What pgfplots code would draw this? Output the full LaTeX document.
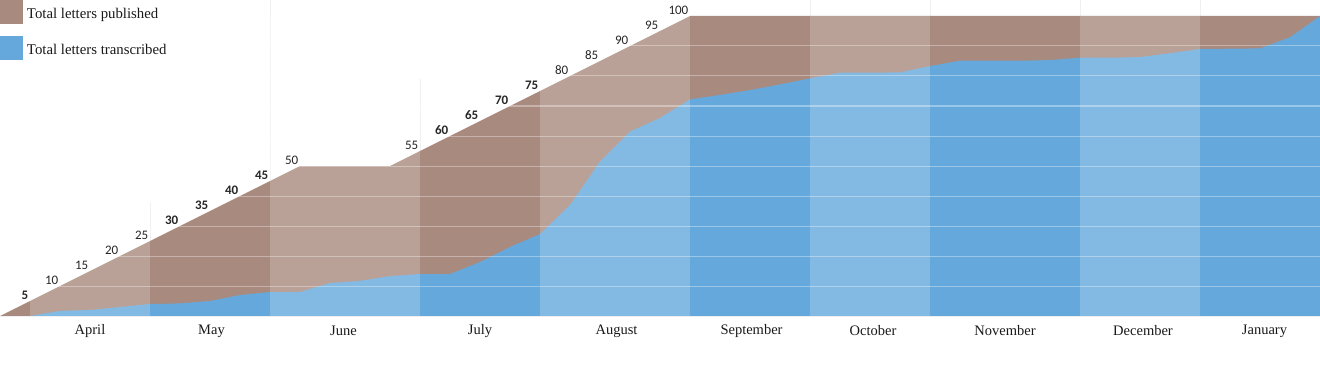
\documentclass[border=0pt]{standalone}
\usepackage{pgfplots}
\pgfplotsset{compat=1.18}
\usepackage{fontspec}
\setmainfont{Liberation Serif}
\newfontfamily\numfont{Carlito}
\definecolor{brownD}{RGB}{169,138,127}
\definecolor{blueD}{RGB}{101,169,220}
\begin{document}
\begin{tikzpicture}
\begin{axis}[
  width=1320bp, height=378bp, scale only axis,
  xmin=0, xmax=44, ymin=-20.6667, ymax=105.3333,
  axis lines=none, xtick=\empty, ytick=\empty,
  clip=false,
  legend style={at={(rel axis cs:0,1)}, anchor=north west, draw=none, fill=none,
    inner sep=0pt, outer sep=0pt, font=\fontsize{14.8bp}{16bp}\selectfont,
    row sep=12bp, text=black!90,
    /tikz/every odd column/.append style={column sep=2bp}},
  legend cell align=left,
  legend image code/.code={\fill[#1] (0bp,-10bp) rectangle (23bp,14bp);},
]
\coordinate (A) at (rel axis cs:0,0);
\coordinate (B) at (rel axis cs:1,1);
% faint vertical band edges
\draw[black!6, line width=0.6bp] (axis cs:5,0) -- (axis cs:5,38);
\draw[black!6, line width=0.6bp] (axis cs:9,0) -- (axis cs:9,105.33);
\draw[black!6, line width=0.6bp] (axis cs:14,0) -- (axis cs:14,79);
\draw[black!6, line width=0.6bp] (axis cs:27,0) -- (axis cs:27,105.33);
\draw[black!6, line width=0.6bp] (axis cs:31,0) -- (axis cs:31,105.33);
\draw[black!6, line width=0.6bp] (axis cs:36,0) -- (axis cs:36,105.33);
\draw[black!6, line width=0.6bp] (axis cs:40,0) -- (axis cs:40,105.33);

\addplot[fill=brownD, draw=none] coordinates {
 (0,0) (1,5) (2,10) (3,15) (4,20) (5,25) (6,30) (7,35) (8,40) (9,45) (10,50)
 (11,50) (12,50) (13,50) (14,55) (15,60) (16,65) (17,70) (18,75) (19,80)
 (20,85) (21,90) (22,95) (23,100) (44,100) (44,0)
} -- cycle;
\addlegendentry{Total letters published}
\addplot[fill=blueD, draw=none] coordinates {
 (0,0) (1,0) (2,1.7) (3,2) (4,3) (5,4) (6,4.2) (7,5) (8,7) (9,8) (10,8)
 (11,11) (12,11.7) (13,13.3) (14,14) (15,14) (16,18) (17,23) (18,27.3)
 (19,37) (20,51.5) (21,61.5) (22,66) (23,72.2) (24,73.7) (25,75.3) (26,77.2)
 (27,79.2) (28,81.1) (29,81.1) (30,81.2) (31,83.3) (32,85.1) (33,85.1)
 (34,85.1) (35,85.3) (36,86.1) (37,86.1) (38,86.3) (39,87.6) (40,89)
 (41,89.1) (42,89.2) (43,92.9) (44,100) (44,0)
} -- cycle;
\addlegendentry{Total letters transcribed}

% lighter month bands
\fill[white, opacity=0.2] (axis cs:1,0) rectangle (axis cs:5,100);
\fill[white, opacity=0.2] (axis cs:9,0) rectangle (axis cs:14,100);
\fill[white, opacity=0.2] (axis cs:18,0) rectangle (axis cs:23,100);
\fill[white, opacity=0.2] (axis cs:27,0) rectangle (axis cs:31,100);
\fill[white, opacity=0.2] (axis cs:36,0) rectangle (axis cs:40,100);
% horizontal gridlines
\pgfplotsinvokeforeach{10,20,30,40,50,60,70,80,90}{
  \draw[white, opacity=0.35, line width=1bp] (axis cs:0,#1) -- (axis cs:44,#1);
}
\draw[white, opacity=0.4, line width=1bp] (axis cs:0,0) -- (axis cs:44,0);

% value labels along the published line
\addplot[draw=none, mark=none, forget plot, nodes near coords,
  point meta=explicit symbolic,
  nodes near coords align={anchor=south east},
  every node near coord/.append style={anchor=south east, inner sep=0.5bp,
    xshift=-1bp, yshift=0.5bp, text=black!85,
    font=\numfont\fontsize{13bp}{13bp}\selectfont}]
coordinates {
 (1,5)[\textbf{5}] (2,10)[10] (3,15)[15] (4,20)[20] (5,25)[25]
 (6,30)[\textbf{30}] (7,35)[\textbf{35}] (8,40)[\textbf{40}] (9,45)[\textbf{45}]
 (10,50)[50] (14,55)[55] (15,60)[\textbf{60}] (16,65)[\textbf{65}]
 (17,70)[\textbf{70}] (18,75)[\textbf{75}] (19,80)[80] (20,85)[85]
 (21,90)[90] (22,95)[95] (23,100)[100]
};

% month names
\begin{scope}[every node/.style={font=\fontsize{14.5bp}{16bp}\selectfont, text=black!90}]
\node at (axis cs:3,-5) {April};
\node at (axis cs:7.05,-5) {May};
\node at (axis cs:11.45,-5) {June};
\node at (axis cs:16,-5) {July};
\node at (axis cs:20.55,-5) {August};
\node at (axis cs:25.05,-5) {September};
\node at (axis cs:29.1,-5) {October};
\node at (axis cs:33.5,-5) {November};
\node at (axis cs:38.1,-5) {December};
\node at (axis cs:42.15,-5) {January};
\end{scope}
\end{axis}
\pgfresetboundingbox
\path[use as bounding box] (A) rectangle (B);
\end{tikzpicture}
\end{document}
